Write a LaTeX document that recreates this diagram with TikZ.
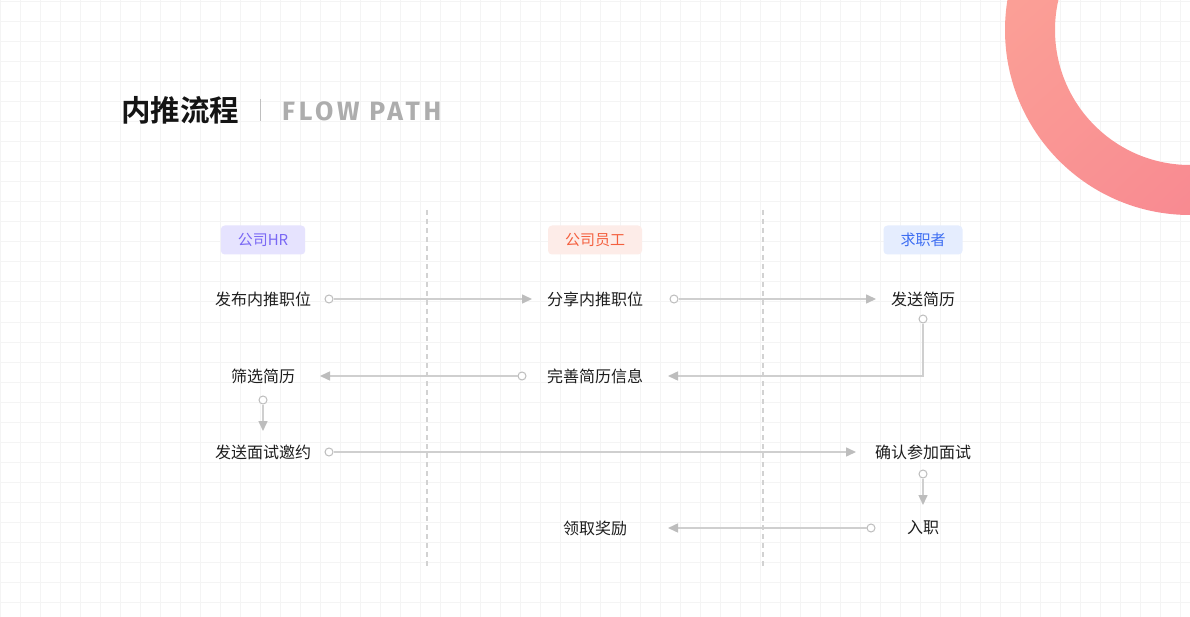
\documentclass[tikz,border=0pt]{standalone}
\usepackage{fontspec}
\usetikzlibrary{arrows.meta,shadings}
\newfontfamily\cjk{Noto Sans CJK SC}
\newfontfamily\cjkb{Noto Sans CJK SC Bold}
\newfontfamily\latb[LetterSpace=14]{Fira Sans}
\definecolor{gridc}{HTML}{F4F4F4}
\definecolor{linec}{HTML}{CFCFCF}
\definecolor{tipc}{HTML}{BDBDBD}
\definecolor{dashc}{HTML}{D2D2D2}
\definecolor{txt}{HTML}{1E1E1E}
\definecolor{hrfill}{HTML}{E6E3FE}
\definecolor{hrtext}{HTML}{7A68F4}
\definecolor{emfill}{HTML}{FDECE8}
\definecolor{emtext}{HTML}{F4603F}
\definecolor{jsfill}{HTML}{E5EDFE}
\definecolor{jstext}{HTML}{3D6DF2}
\definecolor{ringa}{HTML}{FCA898}
\definecolor{ringb}{HTML}{F7808F}
\tikzset{
  lbl/.style={font=\cjk\fontsize{16}{16}\selectfont, text=txt, inner sep=0pt, anchor=center},
  badge/.style={font=\cjk\fontsize{15}{15}\selectfont, rounded corners=4pt, minimum height=29pt, inner xsep=17pt, inner ysep=0pt},
  dot/.style={circle, draw=tipc, fill=white, line width=1pt, minimum size=8pt, inner sep=0pt},
  flow/.style={draw=linec, line width=1.5pt, -{Triangle[length=10pt,width=9pt,color=tipc]}},
  lane/.style={draw=dashc, line width=1.5pt, dash pattern=on 5pt off 4pt}
}
\begin{document}
\begin{tikzpicture}[x=1pt,y=-1pt]
\useasboundingbox (0,0) rectangle (1190,617);
\fill[white] (0,0) rectangle (1190,617);
% grid
\foreach \gx in {0,20,...,1180} \draw[gridc, line width=1pt] (\gx,0) -- (\gx,617);
\foreach \gy in {2,22,...,602} \draw[gridc, line width=1pt] (0,\gy) -- (1190,\gy);
% ring
\begin{scope}
\clip (0,0) rectangle (1190,617);
\shade[even odd rule, upper left=ringa, lower right=ringb, upper right=ringa!60!ringb, lower left=ringa!50!ringb]
  (1190,30) circle (185) (1190,30) circle (135);
\end{scope}
% title
\node[font=\cjkb\fontsize{29.5}{29.5}\selectfont, text=black!92, anchor=west, inner sep=0pt] (title) at (121,110) {内推流程};
\draw[black!25, line width=1pt] (260,99) -- (260,121);
\node[font=\latb\bfseries\fontsize{26.5}{26.5}\selectfont, text=black!32, anchor=west, inner sep=0pt] (sub) at (282,111) {FLOW PATH};
% lanes
\coordinate (l1t) at (427,210); \coordinate (l1b) at (427,567);
\coordinate (l2t) at (763,210); \coordinate (l2b) at (763,567);
\draw[lane] (l1t) -- (l1b);
\draw[lane] (l2t) -- (l2b);
% badges
\node[badge, fill=hrfill, text=hrtext] (hr) at (263,240) {公司HR};
\node[badge, fill=emfill, text=emtext] (em) at (595,240) {公司员工};
\node[badge, fill=jsfill, text=jstext] (js) at (923,240) {求职者};
% labels
\node[lbl] (a1) at (263,299) {发布内推职位};
\node[lbl] (b1) at (595,299) {分享内推职位};
\node[lbl] (c1) at (923,299) {发送简历};
\node[lbl] (a2) at (263,376) {筛选简历};
\node[lbl] (b2) at (595,376) {完善简历信息};
\node[lbl] (a3) at (263,452) {发送面试邀约};
\node[lbl] (c3) at (923,452) {确认参加面试};
\node[lbl] (c4) at (923,528) {入职};
\node[lbl] (b4) at (595,528) {领取奖励};
% tips
\coordinate (t1) at (532,299);
\coordinate (t2) at (876,299);
\coordinate (t3) at (668,376);
\coordinate (t4) at (320,376);
\coordinate (t5) at (263,431);
\coordinate (t6) at (856,452);
\coordinate (t7) at (923,505);
\coordinate (t8) at (668,528);
\coordinate (k1) at (923,376);
% dots
\node[dot] (d1) at (329,299) {};
\node[dot] (d2) at (674,299) {};
\node[dot] (d3) at (923,319) {};
\node[dot] (d4) at (522,376) {};
\node[dot] (d5) at (263,400) {};
\node[dot] (d6) at (329,452) {};
\node[dot] (d7) at (923,474) {};
\node[dot] (d8) at (871,528) {};
% connectors
\draw[flow] (d1) -- (t1);
\draw[flow] (d2) -- (t2);
\draw[flow] (d3) -- (k1) -- (t3);
\draw[flow] (d4) -- (t4);
\draw[flow] (d5) -- (t5);
\draw[flow] (d6) -- (t6);
\draw[flow] (d7) -- (t7);
\draw[flow] (d8) -- (t8);
\end{tikzpicture}
\end{document}
